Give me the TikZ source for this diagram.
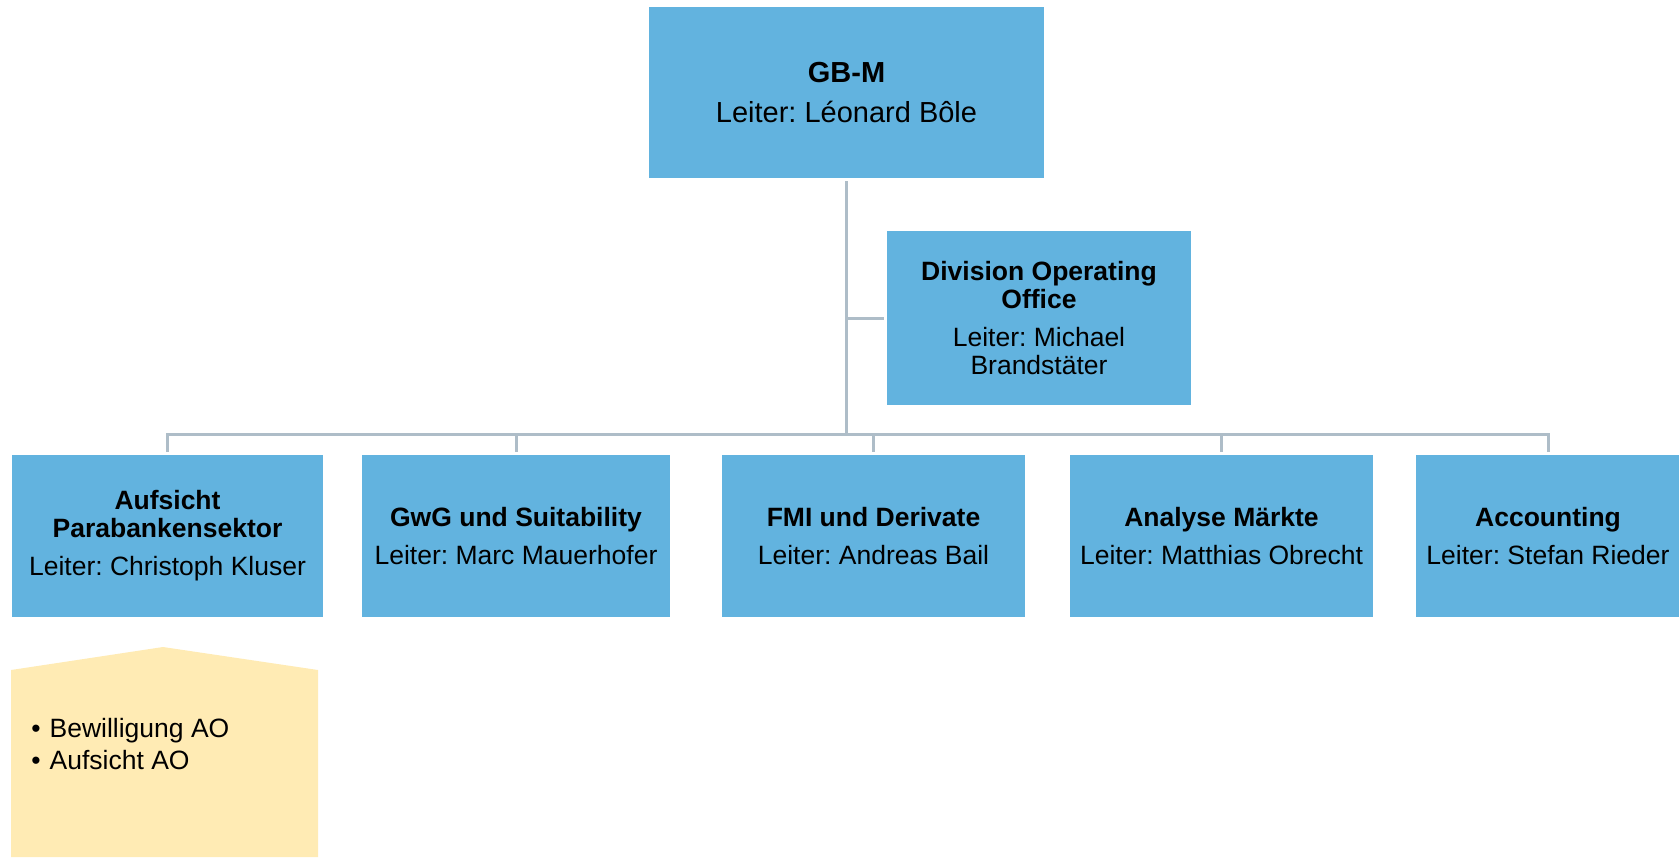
\documentclass[tikz,border=0pt]{standalone}
\usepackage{fontspec}
\setmainfont{Liberation Sans}
\usepackage{xcolor}
\definecolor{unitblue}{RGB}{98,179,223}
\definecolor{taskyellow}{RGB}{255,235,180}
\definecolor{linegray}{RGB}{174,189,200}
\usetikzlibrary{positioning}
\frenchspacing
\tikzset{
  unitbox/.style={fill=unitblue, inner sep=0pt, outer sep=1.5pt, align=center,
    minimum height=81pt, font=\fontsize{13.25}{14}\selectfont},
  headbox/.style={unitbox, minimum width=197.5pt, minimum height=85.5pt,
    font=\fontsize{14.5}{17}\selectfont},
  orgline/.style={draw=linegray, line width=1.5pt},
  tasktext/.style={inner sep=0pt, align=left, font=\fontsize{13.25}{16}\selectfont}
}

\begin{document}
\begin{tikzpicture}[x=0.5pt, y=-0.5pt]
    \useasboundingbox (0,0) rectangle (1679,857);
    % head and staff unit
    \node[headbox] (gbm) at (846.5,92.5) {\textbf{GB-M}\\[3pt] Leiter: Léonard Bôle};
    \node[unitbox, minimum width=152pt, minimum height=87pt] (doo) at (1039,318)
    {\textbf{Division Operating}\\ \textbf{Office}\\[5pt] Leiter: Michael\\ Brandstäter};
    % divisions
    \node[unitbox, minimum width=155.5pt] (aps) at (167.5,536)
    {\textbf{Aufsicht}\\ \textbf{Parabankensektor}\\[5pt] Leiter: Christoph Kluser};
    \node[unitbox, minimum width=154pt] (gwg) at (516,536)
    {\textbf{GwG und Suitability}\\[5pt] Leiter: Marc Mauerhofer};
    \node[unitbox, minimum width=151.5pt] (fmi) at (873.5,536)
    {\textbf{FMI und Derivate}\\[5pt] Leiter: Andreas Bail};
    \node[unitbox, minimum width=151.5pt] (ana) at (1221.5,536)
    {\textbf{Analyse Märkte}\\[5pt] Leiter: Matthias Obrecht};
    \node[unitbox, minimum width=132pt] (acc) at (1548,536)
    {\textbf{Accounting}\\[5pt] Leiter: Stefan Rieder};
    \coordinate (bus) at (847,434);
    % connectors
    \draw[orgline] (gbm) -- (gbm |- bus);
    \draw[orgline] (gbm |- doo.west) -- (doo.west);
    \draw[orgline] (aps.north) -- (aps.north |- bus) -- (acc.north |- bus) -- (acc.north);
    \foreach \n in {gwg, fmi, ana}
      \draw[orgline] (\n.north |- bus) -- (\n.north);
    % tasks of the first division
    \fill[taskyellow] (11,670) -- (163,647) -- (318,670) -- (318,857) -- (11,857) -- cycle;
    \node[tasktext, anchor=west] (tasks) at (31,744)
    {\textbullet\hspace{4.5pt}Bewilligung AO\\ \textbullet\hspace{4.5pt}Aufsicht AO};
\end{tikzpicture}
\end{document}
